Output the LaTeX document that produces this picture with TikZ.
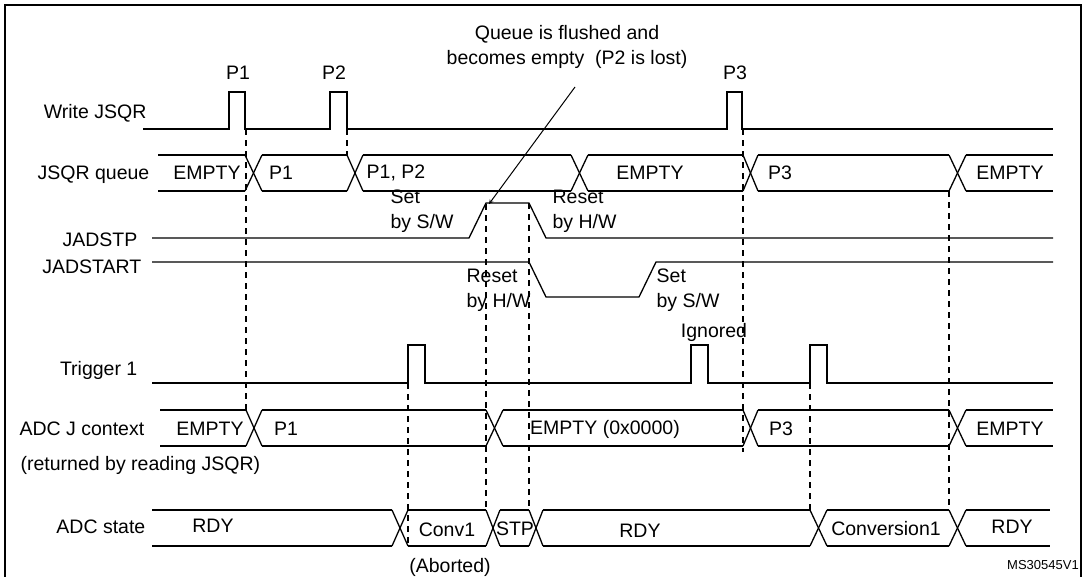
\documentclass[tikz,border=0pt]{standalone}
\usepackage{fontspec}
\setmainfont{Liberation Sans}
\begin{document}
\begin{tikzpicture}[x=1pt,y=-1pt,line width=1.3pt,
  lbl/.style={font=\fontsize{19.5}{25}\selectfont,inner sep=0pt},
  dsh/.style={dash pattern=on 6pt off 5pt,line width=1.2pt}]
\useasboundingbox (0,0) rectangle (1085,576);
\draw[line width=1.8pt] (5,590) -- (5,5) -- (1081,5) -- (1081,590);
% Write JSQR
\node[lbl,anchor=east] (wl) at (147,113) {Write JSQR};
\draw (143,129) -- (229,129) -- (229,92) -- (245,92) -- (245,129) -- (330,129) -- (330,92) -- (347,92) -- (347,129)
  -- (727,129) -- (727,92) -- (742,92) -- (742,129) -- (1053,129);
\node[lbl] at (238,73) {P1};
\node[lbl] at (334,73) {P2};
\node[lbl] at (735,73) {P3};
\newcommand{\buscells}[3]{\foreach \s/\e in {#1} {\draw (\s,#2) -- (\e,#2); \draw (\s,#3) -- (\e,#3);}}
\newcommand{\buscross}[3]{\foreach \a/\b in {#1} {\draw (\a,#2) -- (\b,#3); \draw (\a,#3) -- (\b,#2);}}
% JSQR queue
\node[lbl,anchor=east] at (150,175) {JSQR queue};
\buscells{158/245,262/347,363/571,588/743,758/949,966/1053}{155}{191}
\buscross{245/262,347/363,571/588,743/758,949/966}{155}{191}
\node[lbl] at (207,173) {EMPTY};
\node[lbl] at (281,173) {P1};
\node[lbl] at (396,173) {P1, P2};
\node[lbl] at (650,173) {EMPTY};
\node[lbl] at (780,173) {P3};
\node[lbl] at (1010,173) {EMPTY};
% JADSTP
\node[lbl,anchor=east] at (138,240) {JADSTP};
\draw (152,238) -- (469,238) -- (486,203) -- (529,203) -- (546,238) -- (1053,238);
\node[lbl,align=left,anchor=west] at (390,211) {Set\\by S/W};
\node[lbl,align=left,anchor=west] at (552,211) {Reset\\by H/W};
% JADSTART
\node[lbl,anchor=east] at (142,267) {JADSTART};
\draw (152,262) -- (529,262) -- (546,297) -- (639,297) -- (656,262) -- (1053,262);
\node[lbl,align=left,anchor=west] at (466,290) {Reset\\by H/W};
\node[lbl,align=left,anchor=west] at (656,290) {Set\\by S/W};
% Trigger 1
\node[lbl,anchor=east] at (138,370) {Trigger 1};
\draw (152,383) -- (408,383) -- (408,345) -- (425,345) -- (425,383) -- (691,383) -- (691,345) -- (708,345) -- (708,383)
  -- (810,383) -- (810,345) -- (827,345) -- (827,383) -- (1053,383);
\node[lbl] at (714,332) {Ignored};
% ADC J context
\node[lbl,anchor=west] at (19,429) {ADC J context};
\node[lbl,anchor=west] at (20,465) {(returned by reading JSQR)};
\buscells{160/246,262/486,503/743,758/949,966/1053}{410}{446}
\buscross{246/262,486/503,743/758,949/966}{410}{446}
\node[lbl] at (210,429) {EMPTY};
\node[lbl] at (286,429) {P1};
\node[lbl] at (605,429) {EMPTY (0x0000)};
\node[lbl] at (781,429) {P3};
\node[lbl] at (1010,429) {EMPTY};
% ADC state
\node[lbl,anchor=east] at (146,527) {ADC state};
\buscells{152/392,408/486,500/529,543/810,827/949,966/1050}{510}{546}
\buscross{392/408,486/500,529/543,810/827,949/966}{510}{546}
\node[lbl] at (213,526) {RDY};
\node[lbl] at (447,530) {Conv1};
\node[lbl] at (515,529) {STP};
\node[lbl] at (640,531) {RDY};
\node[lbl] at (886,529) {Conversion1};
\node[lbl] at (1012,527) {RDY};
\node[lbl] at (450,567) {(Aborted)};
\node[font=\fontsize{13}{15}\selectfont,inner sep=0pt] at (1043,565) {MS30545V1};
% dashed guides
\draw[dsh] (246,129) -- (246,410);
\draw[dsh] (347,129) -- (347,155);
\draw[dsh] (408,383) -- (408,546);
\draw[dsh] (486,204) -- (486,510);
\draw[dsh] (529,203) -- (529,510);
\draw[dsh] (743,129) -- (743,452);
\draw[dsh] (810,383) -- (810,510);
\draw[dsh] (949,191) -- (949,510);
% annotation
\node[lbl,align=center] (q) at (567,47) {Queue is flushed and\\becomes empty\ \ (P2 is lost)};
\coordinate (qa) at (575,87);
\coordinate (qb) at (489,204);
\draw[-stealth,line width=1pt] (qa) -- (qb);
\end{tikzpicture}
\end{document}
